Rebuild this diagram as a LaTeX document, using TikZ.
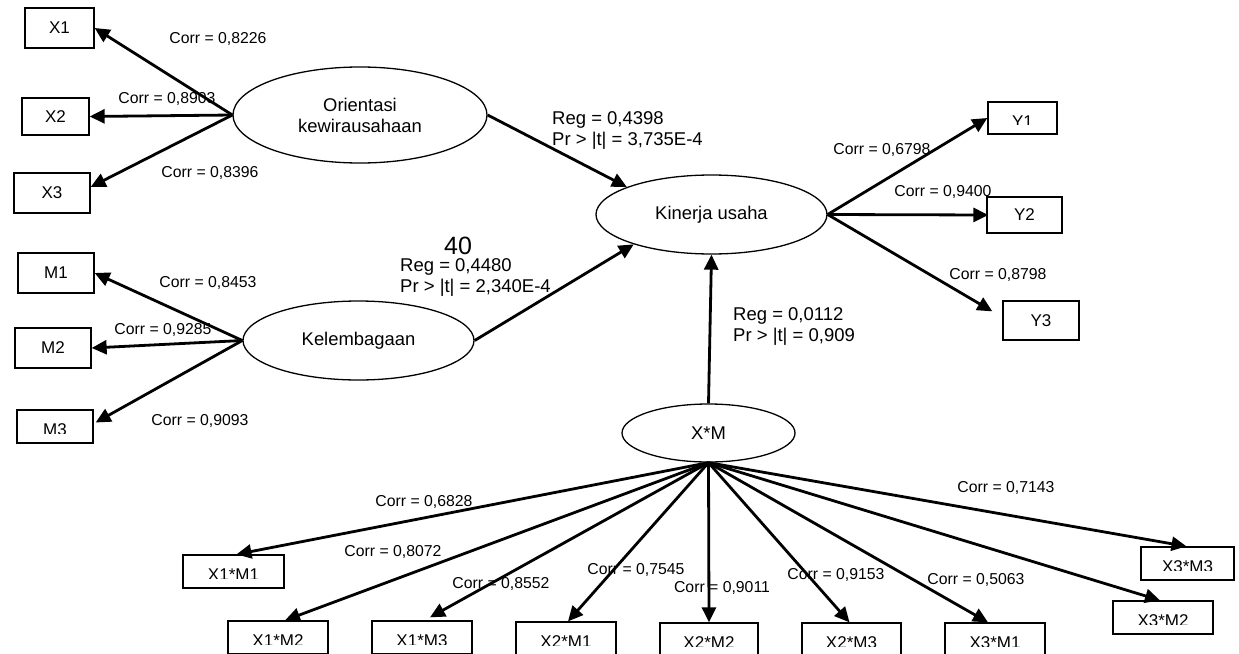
\documentclass[tikz,border=0pt]{standalone}
\usepackage{fontspec}
\setmainfont{Liberation Sans}
\usetikzlibrary{arrows.meta,shapes.geometric}
\tikzset{
 lat/.style={ellipse, draw, line width=1.3pt, inner sep=0pt, align=center, font=\fontsize{18.4}{21}\selectfont},
 ind/.style={rectangle, draw, line width=1.3pt, inner sep=0pt, font=\fontsize{17}{20}\selectfont},
 boxtext/.style={inner sep=0pt, font=\fontsize{17}{20}\selectfont, anchor=north},
 load/.style={line width=2.8pt, -{Triangle[length=15pt,width=14pt]}},
 corr/.style={inner sep=0pt, font=\fontsize{15.8}{18}\selectfont},
 reg/.style={inner sep=0pt, align=left, anchor=north west, font=\fontsize{18.5}{21}\selectfont},
}
\newcommand\cutbox[5]{%
 \node[ind, minimum width=#3pt, minimum height=#4pt] (#1) at (#2) {};
 \begin{scope}
 \clip (#1.north west) rectangle ([yshift=10pt]#1.south east);
 \node[boxtext] (#1t) at ([yshift=-14.5pt]#1.north) {#5};
 \end{scope}}
\begin{document}
\begin{tikzpicture}[x=1pt,y=-1pt]
\useasboundingbox (0,0) rectangle (1239,653);
\clip (0,0) rectangle (1239,653);
% latent variables
\node[lat, minimum width=254pt, minimum height=96pt] (ori) at (360,115) {Orientasi\\kewirausahaan};
\node[lat, minimum width=231pt, minimum height=79pt] (kel) at (358.5,340.5) {Kelembagaan};
\node[lat, minimum width=231pt, minimum height=79pt] (kin) at (711.5,214.5) {Kinerja usaha};
\node[lat, minimum width=173pt, minimum height=58pt] (xm) at (708.5,433) {X*M};
% indicators
\node[ind, minimum width=69pt, minimum height=40pt] (X1) at (59.5,28) {X1};
\node[ind, minimum width=67pt, minimum height=37pt] (X2) at (55.5,116.5) {X2};
\node[ind, minimum width=76pt, minimum height=40pt] (X3) at (52,193) {X3};
\node[ind, minimum width=76pt, minimum height=40pt] (M1) at (56,273) {M1};
\node[ind, minimum width=76pt, minimum height=40pt] (M2) at (53,348) {M2};
\cutbox{M3}{55,426.5}{76}{33}{M3}
\cutbox{Y1}{1022.5,118}{69}{32}{Y1}
\node[ind, minimum width=75pt, minimum height=36pt] (Y2) at (1024.5,215) {Y2};
\node[ind, minimum width=76pt, minimum height=39pt] (Y3) at (1041,320.5) {Y3};
\cutbox{X1M1}{233.5,571.5}{101}{33}{X1*M1}
\cutbox{X1M2}{278,637.5}{100}{33}{X1*M2}
\cutbox{X1M3}{422,637.5}{100}{33}{X1*M3}
\cutbox{X2M1}{566,638.5}{100}{33}{X2*M1}
\cutbox{X2M2}{709,639.5}{98}{33}{X2*M2}
\cutbox{X2M3}{851.5,639.5}{99}{33}{X2*M3}
\cutbox{X3M1}{995,639.5}{100}{33}{X3*M1}
\cutbox{X3M2}{1163,617.5}{100}{33}{X3*M2}
\cutbox{X3M3}{1187.5,563.5}{93}{33}{X3*M3}
% arrows
\draw[load] (ori.west) -- (X1.east);
\draw[load] (ori.west) -- (X2.east);
\draw[load] (ori.west) -- ([yshift=6pt]X3.east);
\draw[load] (kel.west) -- (M1.east);
\draw[load] (kel.west) -- (M2.east);
\draw[load] (kel.west) -- ([xshift=2pt,yshift=4pt]M3.east);
\draw[load] (kin.east) -- (Y1.west);
\draw[load] (kin.east) -- ([xshift=2pt]Y2.west);
\draw[load] (kin.east) -- ([xshift=-10pt,yshift=-11pt]Y3.north west);
\draw[load] (ori.east) -- (kin.162);
\draw[load] (kel.east) -- (kin.201);
\draw[load] (xm.north) -- (kin.south);
\draw[load] (xm.south) -- ([xshift=3pt]X1M1.north);
\draw[load] (xm.south) -- ([xshift=7pt]X1M2.north);
\draw[load] (xm.south) -- ([xshift=8pt,yshift=3pt]X1M3.north);
\draw[load] (xm.south) -- ([xshift=2pt]X2M1.north);
\draw[load] (xm.south) -- (X2M2.north);
\draw[load] (xm.south) -- ([xshift=-2pt]X2M3.north);
\draw[load] (xm.south) -- ([xshift=-7pt]X3M1.north);
\draw[load] (xm.south) -- ([xshift=-3pt]X3M2.north);
\draw[load] (xm.south) -- ([xshift=-1pt]X3M3.north);
% labels
\node[corr] (c1) at (218,39) {Corr = 0,8226};
\node[corr] (c2) at (167,99) {Corr = 0,8903};
\node[corr] (c3) at (210,173) {Corr = 0,8396};
\node[corr] (c4) at (208,283) {Corr = 0,8453};
\node[corr] (c5) at (163,330) {Corr = 0,9285};
\node[corr] (c6) at (200,421) {Corr = 0,9093};
\node[corr] (c7) at (882,150) {Corr = 0,6798};
\node[corr] (c8) at (943,192) {Corr = 0,9400};
\node[corr] (c9) at (998,275) {Corr = 0,8798};
\node[corr] (c10) at (424,502) {Corr = 0,6828};
\node[corr] (c11) at (393,552) {Corr = 0,8072};
\node[corr] (c12) at (501,584) {Corr = 0,8552};
\node[corr] (c13) at (636,570) {Corr = 0,7545};
\node[corr] (c14) at (722,588) {Corr = 0,9011};
\node[corr] (c15) at (836,575) {Corr = 0,9153};
\node[corr] (c16) at (976,580) {Corr = 0,5063};
\node[corr] (c17) at (1006,488) {Corr = 0,7143};
\node[reg] (r1) at (552,111) {Reg = 0,4398\\Pr > |t| = 3,735E-4};
\node[reg] (r2) at (400,258) {Reg = 0,4480\\Pr > |t| = 2,340E-4};
\node[reg] (r3) at (733,307) {Reg = 0,0112\\Pr > |t| = 0,909};
\node[inner sep=0pt, font=\fontsize{25}{28}\selectfont] (n40) at (458,245.5) {40};
\end{tikzpicture}
\end{document}
